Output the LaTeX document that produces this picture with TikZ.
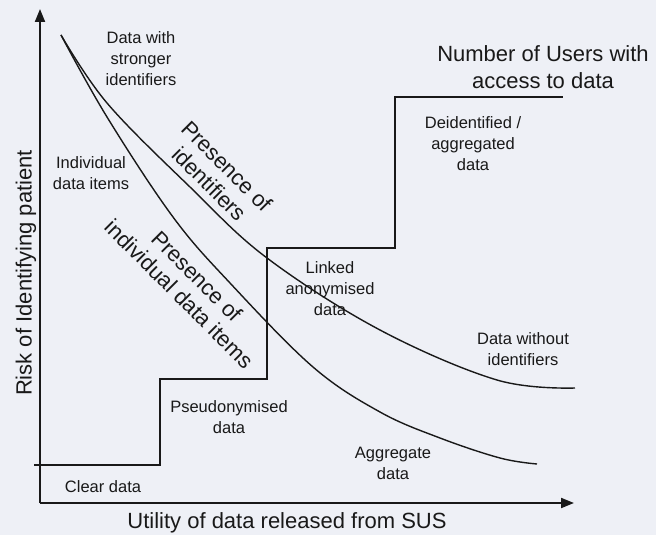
\documentclass[tikz,border=0pt]{standalone}
\usepackage{fontspec}
\setmainfont{Liberation Sans}
\usetikzlibrary{arrows.meta}
\definecolor{bg}{RGB}{238,240,246}
\definecolor{ink}{RGB}{25,25,25}
\begin{document}
\begin{tikzpicture}[x=1pt,y=-1pt,
  lbl/.style={align=center,inner sep=0pt,text=ink,font=\fontsize{16.5}{21}\selectfont},
  big/.style={align=center,inner sep=0pt,text=ink,font=\fontsize{22}{27}\selectfont},
  diag/.style={align=center,inner sep=0pt,text=ink,font=\fontsize{22}{25}\selectfont,rotate=-45},
  axis/.style={draw=ink,line width=2pt,-{Triangle[length=13pt,width=10pt]}},
  curve/.style={draw=ink,line width=1.4pt},
  stair/.style={draw=ink,line width=1.4pt}]
\fill[bg] (0,0) rectangle (656,535);
\useasboundingbox (0,0) rectangle (656,535);
% axes
\coordinate (O) at (40,503);
\coordinate (Ytip) at (40,9);
\coordinate (Xtip) at (574,503);
\draw[axis] (O) -- (Ytip);
\draw[axis] (O) -- (Xtip);
% users step line
\draw[stair] (34,465) -- (160,465) -- (160,379) -- (267,379) -- (267,248) -- (395,248) -- (395,97) -- (563,97);
% curves
\draw[curve] plot[smooth,tension=0.6] coordinates {(61,35) (107,103) (190,187) (267,258) (380,330) (497,380) (575,388)};
\draw[curve] plot[smooth,tension=0.6] coordinates {(61,35) (107,117) (173,217) (230,283) (313,367) (380,412) (440,438) (500,458) (537,464)};
% labels
\node[lbl] (strong) at (141,59) {Data with\\stronger\\identifiers};
\node[lbl] (indiv) at (91,173) {Individual\\data items};
\node[lbl] (deid) at (473,144) {Deidentified /\\aggregated\\data};
\node[lbl] (linked) at (330,289) {Linked\\anonymised\\data};
\node[lbl] (without) at (523,349) {Data without\\identifiers};
\node[lbl] (aggr) at (393,463) {Aggregate\\data};
\node[lbl] (pseudo) at (229,417) {Pseudonymised\\data};
\node[lbl] (clear) at (103,487) {Clear data};
\node[big] (users) at (543,67) {Number of Users with\\access to data};
\node[big] (utility) at (287,523) {Utility of data released from SUS};
\node[big,rotate=90] (risk) at (26,273) {Risk of Identifying patient};
\node[diag] (presid) at (218,175) {Presence of\\identifiers};
\node[diag] (presind) at (188,285) {Presence of\\individual data items};
\end{tikzpicture}
\end{document}
